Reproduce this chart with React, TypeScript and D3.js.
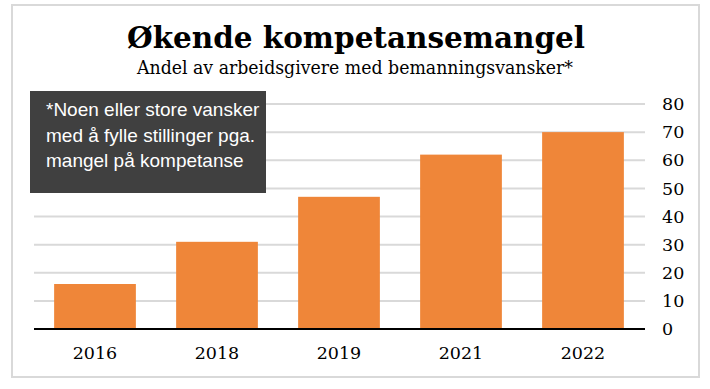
import React from "react";
import * as d3 from "d3";

// chart values
const years = ["2016", "2018", "2019", "2021", "2022"];
const shares = [16, 31, 47, 62, 70];
const yTicks = [0, 10, 20, 30, 40, 50, 60, 70, 80];
const noteLines = [
  "*Noen eller store vansker",
  "med å fylle stillinger pga.",
  "mangel på kompetanse",
];

const W = 710;
const H = 389;

export default function App() {
  // plot area
  const x = d3.scaleBand<string>().domain(years).range([34, 644]).paddingInner(0.33).paddingOuter(0.165);
  const y = d3.scaleLinear().domain([0, 80]).range([329, 104]);

  const serif = "'DejaVu Serif', 'Liberation Serif', serif";

  return (
    <div style={{ position: "absolute", left: 0, top: 0 }}>
      <svg width={W} height={H} style={{ display: "block", background: "#fff" }}>
        {/* frame */}
        <rect x={12} y={5} width={687} height={372} fill="none" stroke="#d9d9d9" strokeWidth={2} />

        {/* title */}
        <text x={356} y={48} textAnchor="middle" fontFamily={serif} fontWeight="bold" fontSize={30.5}
          textLength={458} lengthAdjust="spacingAndGlyphs" fill="#000">
          Økende kompetansemangel
        </text>
        <text x={355} y={74} textAnchor="middle" fontFamily={serif} fontSize={18.5}
          textLength={436} lengthAdjust="spacingAndGlyphs" fill="#000">
          Andel av arbeidsgivere med bemanningsvansker*
        </text>

        {/* gridlines */}
        {yTicks.filter((t) => t > 0).map((t) => (
          <line key={t} x1={34} x2={645} y1={y(t)} y2={y(t)} stroke="#d9d9d9" strokeWidth={2} />
        ))}

        {/* bars */}
        {years.map((yr, i) => (
          <rect key={yr} x={x(yr)} y={y(shares[i])} width={x.bandwidth()} height={y(0) - y(shares[i])} fill="#EF8639" />
        ))}

        {/* axis */}
        <line x1={34} x2={645} y1={y(0)} y2={y(0)} stroke="#000" strokeWidth={2} />

        {/* y labels, right side */}
        {yTicks.map((t) => (
          <text key={t} x={662} y={y(t)} dy="0.35em" fontFamily={serif} fontSize={17.5} fill="#000">
            {t}
          </text>
        ))}

        {/* x labels */}
        {years.map((yr) => (
          <text key={yr} x={(x(yr) ?? 0) + x.bandwidth() / 2} y={359} textAnchor="middle"
            fontFamily={serif} fontSize={17.5} fill="#000">
            {yr}
          </text>
        ))}

        {/* note box */}
        <rect x={30} y={91} width={236} height={102} fill="#404040" />
        {noteLines.map((line, i) => (
          <text key={i} x={46} y={116 + i * 25.5} fontFamily="'Liberation Sans', Arial, sans-serif" fontSize={19} fill="#fff">
            {line}
          </text>
        ))}
      </svg>
    </div>
  );
}
